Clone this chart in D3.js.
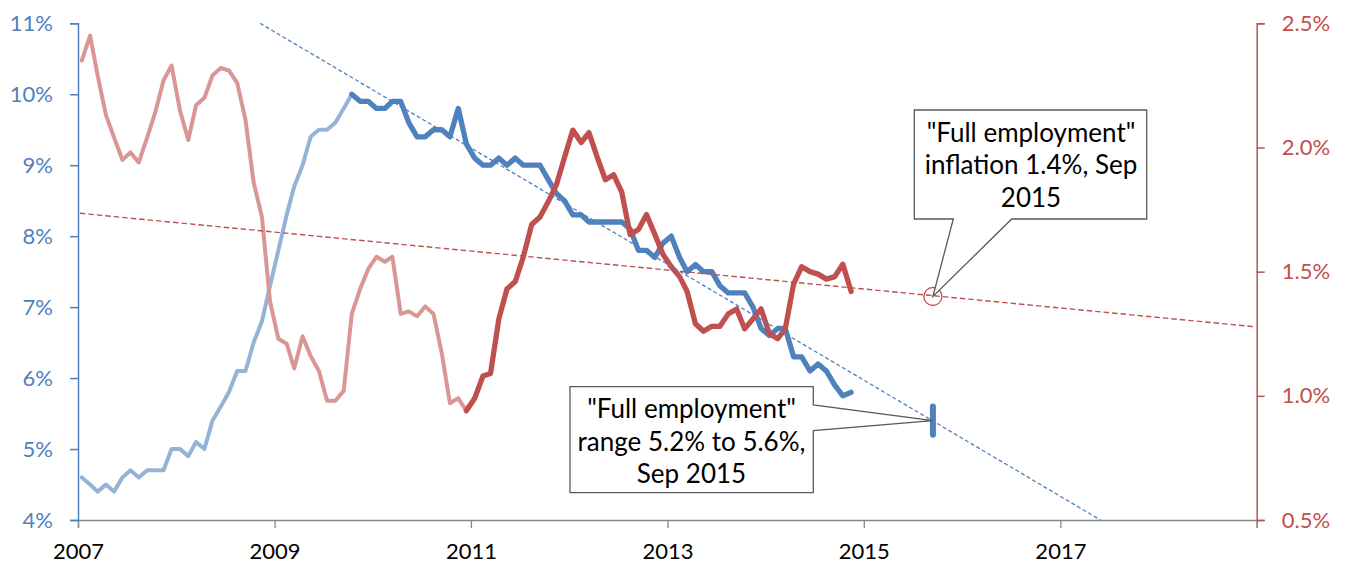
<!DOCTYPE html>
<html>
<head>
<meta charset="utf-8">
<script src="https://cdn.jsdelivr.net/npm/d3@7"></script>
<style>
  body { margin: 0; background: #fff; }
  svg text { font-family: Lato, "Open Sans", sans-serif; }
</style>
</head>
<body>
<script>
// monthly series, Jan 2007 .. Nov 2014
const unemployment = [
  4.6, 4.5, 4.4, 4.5, 4.4, 4.6, 4.7, 4.6, 4.7, 4.7, 4.7, 5.0,
  5.0, 4.9, 5.1, 5.0, 5.4, 5.6, 5.8, 6.1, 6.1, 6.5, 6.8, 7.3,
  7.8, 8.3, 8.7, 9.0, 9.4, 9.5, 9.5, 9.6, 9.8, 10.0, 9.9, 9.9,
  9.8, 9.8, 9.9, 9.9, 9.6, 9.4, 9.4, 9.5, 9.5, 9.4, 9.8, 9.3,
  9.1, 9.0, 9.0, 9.1, 9.0, 9.1, 9.0, 9.0, 9.0, 8.8, 8.6, 8.5,
  8.3, 8.3, 8.2, 8.2, 8.2, 8.2, 8.2, 8.1, 7.8, 7.8, 7.7, 7.9,
  8.0, 7.7, 7.5, 7.6, 7.5, 7.5, 7.3, 7.2, 7.2, 7.2, 7.0, 6.7,
  6.6, 6.7, 6.7, 6.3, 6.3, 6.1, 6.2, 6.1, 5.9, 5.75, 5.8
];
const inflation = [
  2.35, 2.45, 2.29, 2.13, 2.04, 1.95, 1.98, 1.94, 2.04, 2.14, 2.27, 2.33,
  2.15, 2.03, 2.17, 2.20, 2.29, 2.32, 2.31, 2.26, 2.11, 1.86, 1.72, 1.38,
  1.23, 1.21, 1.11, 1.24, 1.16, 1.10, 0.98, 0.98, 1.02, 1.33, 1.43, 1.51,
  1.56, 1.54, 1.56, 1.33, 1.34, 1.32, 1.36, 1.33, 1.17, 0.97, 0.99, 0.94,
  0.99, 1.08, 1.09, 1.31, 1.43, 1.46, 1.56, 1.69, 1.72, 1.78, 1.85, 1.96,
  2.07, 2.02, 2.06, 1.96, 1.87, 1.89, 1.82, 1.65, 1.67, 1.73, 1.65, 1.57,
  1.52, 1.48, 1.42, 1.29, 1.26, 1.28, 1.28, 1.33, 1.35, 1.27, 1.31, 1.35,
  1.25, 1.23, 1.27, 1.45, 1.52, 1.50, 1.49, 1.47, 1.48, 1.53, 1.42
];
const firstMonth = new Date(2007, 0, 15);
const unempDarkFrom = 33;   // Oct 2009 onwards drawn dark
const inflDarkFrom = 47;    // Dec 2010 onwards drawn dark

// trend lines (date, value)
const unempTrendDates = [new Date(2008, 10, 8), new Date(2017, 4, 30)];
const unempTrendValues = [11, 4];
const inflTrendDates = [new Date(2007, 0, 8), new Date(2018, 11, 26)];
const inflTrendValues = [1.735, 1.278];

// "full employment" point, Sep 2015
const fullEmpDate = new Date(2015, 8, 15);
const fullEmpRange = [5.2, 5.6];
const fullEmpInflation = 1.4;

const yearTicks = [2007, 2009, 2011, 2013, 2015, 2017, 2019];
const leftTicks = [4, 5, 6, 7, 8, 9, 10, 11];
const rightTicks = [0.5, 1.0, 1.5, 2.0, 2.5];

const unempNote = ['"Full employment"', 'range 5.2% to 5.6%,', 'Sep 2015'];
const inflNote = ['"Full employment"', 'inflation 1.4%, Sep', '2015'];

const blue = "#4F81BD", lightBlue = "#95B3D7";
const red = "#C0504D", lightRed = "#D99694";

const W = 1349, H = 565;
const m = { left: 78, right: 1256.7, top: 23.3, bottom: 520 };

const svg = d3.select("body").append("svg")
  .attr("width", W).attr("height", H)
  .attr("viewBox", [0, 0, W, H]);

const x = d3.scaleTime()
  .domain([new Date(2007, 0, 1), new Date(2019, 0, 1)])
  .range([m.left, m.right]);
const yL = d3.scaleLinear().domain([4, 11]).range([m.bottom, m.top]);
const yR = d3.scaleLinear().domain([0.5, 2.5]).range([m.bottom, m.top]);

const months = unemployment.map((d, i) => d3.timeMonth.offset(firstMonth, i));

const unempPts = unemployment.map((v, i) => ({ date: months[i], v: v }));
const inflPts = inflation.map((v, i) => ({ date: months[i], v: v }));

const lineL = d3.line().x(d => x(d.date)).y(d => yL(d.v));
const lineR = d3.line().x(d => x(d.date)).y(d => yR(d.v));

function drawLine(pts, gen, color, w) {
  svg.append("path")
    .datum(pts)
    .attr("d", gen)
    .attr("fill", "none")
    .attr("stroke", color)
    .attr("stroke-width", w)
    .attr("stroke-linejoin", "round")
    .attr("stroke-linecap", "round");
}

drawLine(unempPts.slice(0, unempDarkFrom + 1), lineL, lightBlue, 4);
drawLine(unempPts.slice(unempDarkFrom), lineL, blue, 5.3);
drawLine(inflPts.slice(0, inflDarkFrom + 1), lineR, lightRed, 4);
drawLine(inflPts.slice(inflDarkFrom), lineR, red, 5.3);

// trend lines
svg.append("path")
  .datum(unempTrendDates.map((d, i) => ({ date: d, v: unempTrendValues[i] })))
  .attr("d", lineL)
  .attr("fill", "none")
  .attr("stroke", blue)
  .attr("stroke-width", 1.3)
  .attr("stroke-dasharray", "4,2.5");

svg.append("path")
  .datum(inflTrendDates.map((d, i) => ({ date: d, v: inflTrendValues[i] })))
  .attr("d", lineR)
  .attr("fill", "none")
  .attr("stroke", red)
  .attr("stroke-width", 1.4)
  .attr("stroke-dasharray", "5.5,3");

// axes
const gx = svg.append("g")
  .attr("transform", `translate(0,${m.bottom})`)
  .call(d3.axisBottom(x)
    .tickValues(yearTicks.map(y => new Date(y, 0, 1)))
    .tickFormat(d => d.getFullYear() === 2019 ? "" : d.getFullYear())
    .tickSize(8).tickPadding(15));
gx.select(".domain").attr("stroke", "#868686").attr("stroke-width", 1.3);
gx.selectAll(".tick line").attr("stroke", "#868686").attr("stroke-width", 1.3);
gx.selectAll("text").attr("fill", "#000").style("font-size", "22px");

const gl = svg.append("g")
  .attr("transform", `translate(${m.left},0)`)
  .call(d3.axisLeft(yL).tickValues(leftTicks).tickFormat(d => d + "%")
    .tickSize(8).tickPadding(17));
gl.select(".domain").attr("stroke", blue).attr("stroke-width", 1.5);
gl.selectAll(".tick line").attr("stroke", blue).attr("stroke-width", 1.5);
gl.selectAll("text").attr("fill", blue).style("font-size", "22px");

const gr = svg.append("g")
  .attr("transform", `translate(${m.right},0)`)
  .call(d3.axisRight(yR).tickValues(rightTicks).tickFormat(d => d.toFixed(1) + "%")
    .tickSize(8).tickPadding(17));
gr.select(".domain").attr("stroke", red).attr("stroke-width", 1.5);
gr.selectAll(".tick line").attr("stroke", red).attr("stroke-width", 1.5);
gr.selectAll("text").attr("fill", red).style("font-size", "22px");

// full employment markers
const fx = x(fullEmpDate);
svg.append("line")
  .attr("x1", fx).attr("x2", fx)
  .attr("y1", yL(fullEmpRange[0])).attr("y2", yL(fullEmpRange[1]))
  .attr("stroke", blue).attr("stroke-width", 6).attr("stroke-linecap", "round");

svg.append("circle")
  .attr("cx", fx).attr("cy", yR(fullEmpInflation)).attr("r", 9)
  .attr("fill", "none").attr("stroke", red).attr("stroke-width", 1.3);

// callouts
function callout(path, lines, cx, y0) {
  svg.append("path")
    .attr("d", path)
    .attr("fill", "#fff")
    .attr("stroke", "#595959")
    .attr("stroke-width", 1.3);
  svg.append("text")
    .attr("text-anchor", "middle")
    .style("font-size", "26px")
    .attr("fill", "#000")
    .selectAll("tspan")
    .data(lines)
    .enter()
    .append("tspan")
    .attr("x", cx)
    .attr("y", (d, i) => y0 + i * 32.5)
    .text(d => d);
}

const p1 = d3.path();
const tip1 = [fx, yL(d3.mean(fullEmpRange))];
p1.moveTo(570, 386.7); p1.lineTo(813.3, 386.7); p1.lineTo(813.3, 405);
p1.lineTo(tip1[0], tip1[1]); p1.lineTo(813.3, 430.7); p1.lineTo(813.3, 492.7);
p1.lineTo(570, 492.7); p1.closePath();
callout(p1.toString(), unempNote, 691.5, 418);

const p2 = d3.path();
const tip2 = [fx, yR(fullEmpInflation)];
p2.moveTo(914.3, 110); p2.lineTo(1146.7, 110); p2.lineTo(1146.7, 219);
p2.lineTo(1011.7, 219); p2.lineTo(tip2[0], tip2[1]); p2.lineTo(953.3, 219);
p2.lineTo(914.3, 219); p2.closePath();
callout(p2.toString(), inflNote, 1031, 141.7);
</script>
</body>
</html>
